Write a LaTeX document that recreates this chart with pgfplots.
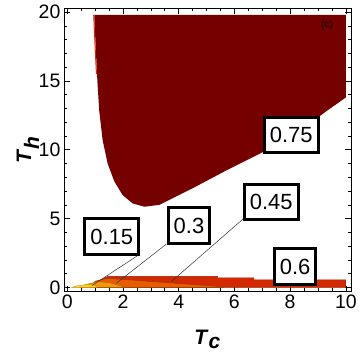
\documentclass[border=0pt]{standalone}
\usepackage{fontspec}
\setmainfont{Liberation Sans}
\usepackage{pgfplots}
\pgfplotsset{compat=1.18}

\definecolor{c15}{RGB}{255,208,30}
\definecolor{c30}{RGB}{245,150,10}
\definecolor{c45}{RGB}{232,92,0}
\definecolor{c60}{RGB}{212,40,0}
\definecolor{c75}{RGB}{117,0,0}

\tikzset{lbl/.style={draw=black, line width=3pt, fill=white, inner xsep=5.5pt, inner ysep=10pt,
  text height=15.8pt, text depth=0pt, font=\fontsize{22}{24}\selectfont}}

\begin{document}
\begin{tikzpicture}
\begin{axis}[
    scale only axis,
    width=288pt, height=284pt,
    xmin=-0.12, xmax=10.2,
    ymin=-0.3, ymax=20.3,
    xtick={0,2,...,10}, ytick={0,5,...,20},
    minor x tick num=3, minor y tick num=4,
    tick align=inside,
    major tick length=6pt, minor tick length=3.5pt,
    tick style={black, line width=0.6pt},
    axis line style={black, line width=0.7pt},
    ticklabel style={font=\fontsize{19.5}{21}\selectfont},
    /pgf/number format/assume math mode=true,
    xlabel={\textbf{\textit{T}}$_{\textbf{\textit{c}}}$},
    ylabel={\textbf{\textit{T}}$_{\textbf{\textit{h}}}$},
    label style={font=\fontsize{21}{23}\selectfont},
    xlabel style={at={(axis description cs:0.5,-0.17)}, anchor=center},
    ylabel style={at={(axis description cs:-0.125,0.5)}, anchor=center},
    clip=false,
]

% 0.75 region
\addplot[fill=c75, draw=none] coordinates {
  (0.97,19.8) (1.03,17.1) (1.09,14.7) (1.15,12.8) (1.27,10.7) (1.45,9.0)
  (1.69,7.7) (1.99,6.7) (2.35,6.1) (2.77,5.86) (3.31,6.0) (4.5,7.2)
  (5.71,8.5) (6.9,9.7) (8.1,11.0) (9.3,12.8) (10,13.8) (10,19.8)
} -- cycle;
% thin red edge on the left of the 0.75 region
\addplot[c60, line width=1pt] coordinates {(0.95,19.8) (1.0,17.5) (1.05,15.5)};

% 0.6 region
\addplot[fill=c60, draw=c60!70!black, line width=0.3pt] coordinates {
  (1.1,0) (1.1,0.45) (1.45,0.8) (5.4,0.8) (5.4,0.7) (6.7,0.7) (6.7,0.55)
  (10,0.55) (10,0)
} -- cycle;

% 0.45 region
\addplot[fill=c45, draw=c45!60!black, line width=0.4pt] coordinates {
  (0.85,0) (1.0,0.45) (1.4,0.65) (2.0,0.58) (5.5,0.06) (5.6,0)
} -- cycle;

% 0.3 region
\addplot[fill=c30, draw=c30!60!black, line width=0.3pt] coordinates {
  (0.45,0) (0.65,0.2) (1.1,0.42) (1.5,0.35) (2.0,0.06) (2.05,0)
} -- cycle;

% 0.15 region
\addplot[fill=c15, draw=c15!70!black, line width=0.3pt] coordinates {
  (0.15,0) (0.35,0.12) (0.7,0.2) (1.0,0.14) (1.05,0)
} -- cycle;

% callout lines
\draw[black!80, line width=0.5pt] (axis cs:0.9,0.15) -- (axis cs:2.52,2.3);
\draw[black!80, line width=0.5pt] (axis cs:1.76,0.3) -- (axis cs:3.56,3.15);
\draw[black!80, line width=0.5pt] (axis cs:3.74,0.43) -- (axis cs:6.3,4.95);

% labels
\node[lbl] at (axis cs:8.04,11.07) {0.75};
\node[lbl] at (axis cs:7.32,6.2) {0.45};
\node[lbl] at (axis cs:4.37,4.5) {0.3};
\node[lbl] at (axis cs:1.6,3.7) {0.15};
\node[lbl] at (axis cs:8.18,1.54) {0.6};
\node[font=\fontsize{10}{12}\selectfont] at (axis cs:9.32,19.1) {(c)};
\end{axis}
\path (current axis.south west) ++(-64pt,-68pt) coordinate (bl);
\path (current axis.north east) ++(8pt,8pt) coordinate (tr);
\path (bl) rectangle (tr);
\end{tikzpicture}
\end{document}
